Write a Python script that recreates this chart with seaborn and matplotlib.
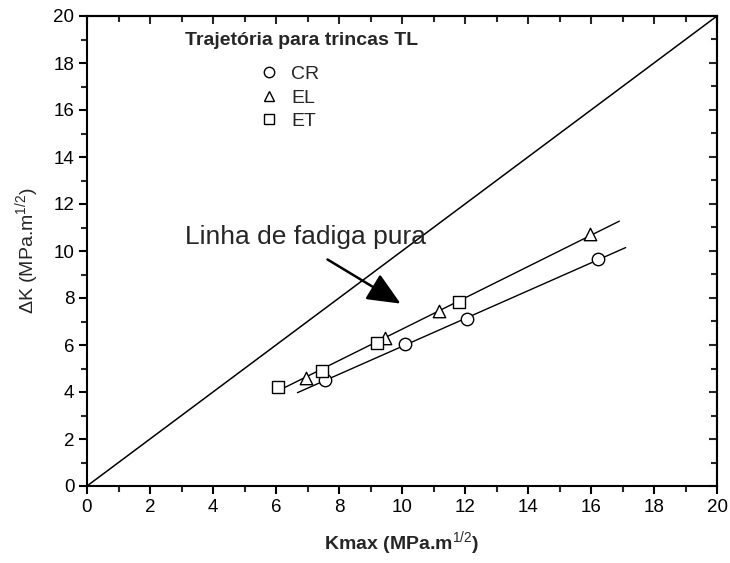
import numpy as np
import pandas as pd
import matplotlib
matplotlib.use("Agg")
import matplotlib.pyplot as plt
from matplotlib.lines import Line2D
import seaborn as sns

# ---- data ----
cr_x = [7.56, 10.11, 12.07, 16.23]
cr_y = [4.50, 6.03, 7.11, 9.65]
el_x = [6.94, 9.46, 11.17, 15.98]
el_y = [4.61, 6.28, 7.46, 10.71]
et_x = [6.07, 7.47, 9.20, 11.80]
et_y = [4.20, 4.91, 6.09, 7.84]
pure_x = [0, 20]
pure_y = [0, 20]
fit_upper_range = [6.02, 16.9]
fit_lower_range = [6.68, 17.1]
series_names = ["CR", "EL", "ET"]
x_ticks = [0, 2, 4, 6, 8, 10, 12, 14, 16, 18, 20]
y_ticks = [0, 2, 4, 6, 8, 10, 12, 14, 16, 18, 20]

sns.set_theme(style="white")
plt.rcParams["font.family"] = ["Liberation Sans", "DejaVu Sans"]
plt.rcParams["mathtext.fontset"] = "custom"
plt.rcParams["mathtext.rm"] = "Liberation Sans"
plt.rcParams["mathtext.bf"] = "Liberation Sans:bold"

fig = plt.figure(figsize=(7.3, 5.63), dpi=100)
ax = fig.add_axes([87 / 730, 1 - 486 / 563, 630 / 730, 470 / 563])

df = pd.DataFrame({
    "x": cr_x + el_x + et_x,
    "y": cr_y + el_y + et_y,
    "s": ["CR"] * len(cr_x) + ["EL"] * len(el_x) + ["ET"] * len(et_x),
})
markers = {"CR": "o", "EL": "^", "ET": "s"}

# pure fatigue line
sns.lineplot(x=pure_x, y=pure_y, ax=ax, color="black", lw=1.1)

# fit lines
up_x = np.array(el_x + et_x)
up_y = np.array(el_y + et_y)
p_up = np.polyfit(up_x, up_y, 1)
xs_up = np.array(fit_upper_range)
sns.lineplot(x=xs_up, y=np.polyval(p_up, xs_up), ax=ax, color="black", lw=1.0)
p_lo = np.polyfit(np.array(cr_x), np.array(cr_y), 1)
xs_lo = np.array(fit_lower_range)
sns.lineplot(x=xs_lo, y=np.polyval(p_lo, xs_lo), ax=ax, color="black", lw=1.0)

# markers
for name in series_names:
    sub = df[df.s == name]
    sns.scatterplot(data=sub, x="x", y="y", ax=ax, marker=markers[name], s=80,
                    facecolor="white", edgecolor="black", linewidth=1.0, zorder=3,
                    legend=False)

ax.set_xlim(0, 20)
ax.set_ylim(0, 20)
ax.set_xticks(x_ticks)
ax.set_yticks(y_ticks)
ax.set_xticks(np.arange(1, 20, 2), minor=True)
ax.set_yticks(np.arange(1, 20, 2), minor=True)
ax.tick_params(which="major", direction="out", length=6, width=1.5, labelsize=13.5,
               bottom=True, left=True, colors="black", pad=3)
ax.tick_params(which="minor", direction="out", length=4, width=1.5, bottom=True, left=True)
for sp in ax.spines.values():
    sp.set_linewidth(1.5)
    sp.set_color("black")

secx = ax.secondary_xaxis("top")
secx.set_xticks(x_ticks)
secx.set_xticks(np.arange(1, 20, 2), minor=True)
secx.tick_params(which="major", direction="in", length=6, width=1.5, labeltop=False)
secx.tick_params(which="minor", direction="in", length=4, width=1.5)
secx.set_xticklabels([])
secy = ax.secondary_yaxis("right")
secy.set_yticks(y_ticks)
secy.set_yticks(np.arange(1, 20, 2), minor=True)
secy.tick_params(which="major", direction="in", length=6, width=1.5, labelright=False)
secy.tick_params(which="minor", direction="in", length=4, width=1.5)
secy.set_yticklabels([])
for s in (secx, secy):
    for sp in s.spines.values():
        sp.set_linewidth(1.5)

ax.set_xlabel(r"Kmax (MPa.m$^{1/2}$)", fontsize=14, fontweight="bold", labelpad=10)
ax.set_ylabel(r"$\Delta$K (MPa.m$^{1/2}$)", fontsize=14, labelpad=8)

# annotation
ax.annotate("", xy=(10.03, 7.70), xytext=(7.56, 9.70),
            arrowprops=dict(arrowstyle="-|>,head_length=1.7,head_width=0.75",
                            color="black", lw=1.8))
ax.text(3.1, 10.6, "Linha de fadiga pura", fontsize=19, ha="left", va="center")

# legend
ax.text(3.1, 18.95, "Trajetória para trincas TL", fontsize=14, fontweight="bold",
        ha="left", va="center")
handles = [Line2D([], [], ls="none", marker=markers[n], mfc="white", mec="black",
                  ms=7.5, mew=1.0) for n in series_names]
ax.legend(handles, series_names, loc="upper left", bbox_to_anchor=(0.255, 0.915),
          frameon=False, fontsize=14, handletextpad=0.55, labelspacing=0.3,
          borderpad=0, handlelength=1.2)

fig.savefig("out.png", dpi=100)
